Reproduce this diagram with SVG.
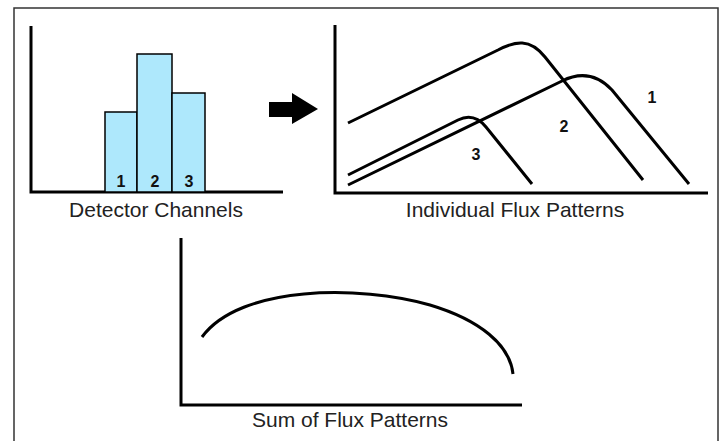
<svg xmlns="http://www.w3.org/2000/svg" width="720" height="441" viewBox="0 0 720 441">
<style>
.axis{fill:none;stroke:#000;stroke-width:3}
.curve{fill:none;stroke:#000;stroke-width:3;stroke-linecap:butt;stroke-linejoin:round}
.bar{fill:#aee8fc;stroke:#000;stroke-width:1.5}
.cap{font-family:"Liberation Sans",Arial,sans-serif;font-size:21px;fill:#222;text-anchor:middle}
.num{font-family:"Liberation Sans",Arial,sans-serif;font-size:16px;font-weight:bold;fill:#111;text-anchor:middle}
</style>
<rect width="720" height="441" fill="#fff"/>
<path d="M14,441 V8 H718 V441" fill="none" stroke="#333" stroke-width="1.5"/>
<g id="detector-channels">
<path class="axis" d="M31,26 V192 H283"/>
<rect class="bar" x="105" y="112" width="32" height="80"/>
<rect class="bar" x="137" y="54" width="35" height="138"/>
<rect class="bar" x="172" y="93" width="33" height="99"/>
<text class="num" x="121" y="187">1</text>
<text class="num" x="155" y="187">2</text>
<text class="num" x="189" y="187">3</text>
<text class="cap" x="156" y="217">Detector Channels</text>
</g>
<g id="connectors">
<polygon points="269,102 292,102 292,93 318,109 292,124 292,117 269,117" fill="#000"/>
</g>
<g id="individual-flux">
<path class="axis" d="M335,25 V193 H708"/>
<path class="curve" d="M348,123 L498,50 C515,41 530,38 545,57 L643,180"/>
<path class="curve" d="M348,185 L562,81 C578,73 595,72 612,90 L689,184"/>
<path class="curve" d="M348,175 L458,120 C468,115 477,116 486,127 L532,184"/>
<text class="num" x="652" y="103">1</text>
<text class="num" x="564" y="132">2</text>
<text class="num" x="476" y="160">3</text>
<text class="cap" x="515" y="217">Individual Flux Patterns</text>
</g>
<g id="sum-flux">
<path class="axis" d="M181,238 V405 H522"/>
<path class="curve" d="M202,337 C240,285 360,285 430,305 C480,320 510,345 513,374"/>
<text class="cap" x="350" y="427">Sum of Flux Patterns</text>
</g>
</svg>
